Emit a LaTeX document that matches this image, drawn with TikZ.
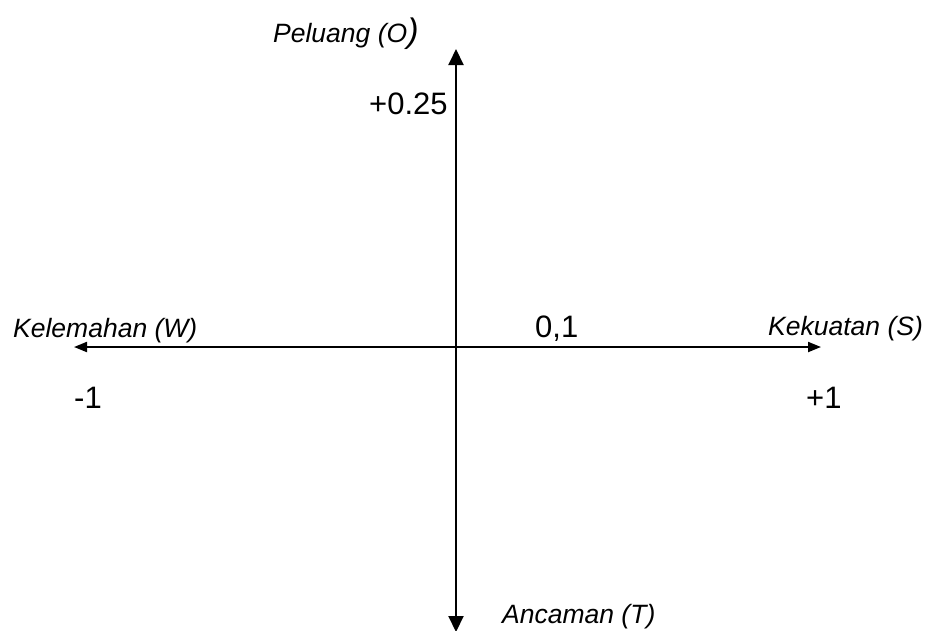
\documentclass[tikz,border=0pt]{standalone}
\usepackage{fontspec}
\setmainfont{Liberation Sans}
\usetikzlibrary{arrows.meta}
\begin{document}
\begin{tikzpicture}[x=1pt,y=-1pt,
  axis/.style={line width=2pt,{Triangle[length=13pt,width=10pt]}-{Triangle[length=13pt,width=10pt]}},
  vaxis/.style={line width=2pt,{Triangle[length=16pt,width=15pt]}-{Triangle[length=16pt,width=15pt]}},
  lab/.style={inner sep=0pt,anchor=base west,font=\fontsize{26.5}{30}\selectfont\itshape},
  num/.style={inner sep=0pt,anchor=base west,font=\fontsize{31}{35}\selectfont}]
\useasboundingbox (0,0) rectangle (925,630);
\coordinate (top) at (456,49);
\coordinate (bot) at (456,632);
\coordinate (left) at (74,347);
\coordinate (right) at (821,347);
\draw[vaxis] (bot) -- (top);
\draw[axis] (left) -- (right);
\node[lab] (o) at (273,42) {Peluang (O{\fontsize{34}{34}\selectfont )}};
\node[num] (q) at (369,114) {+0.25};
\node[lab] (w) at (13,337) {Kelemahan (W)};
\node[lab] (s) at (768,335) {Kekuatan (S)};
\node[lab] (t) at (502,623) {Ancaman (T)};
\node[num] (c) at (535,337) {0,1};
\node[num] (m) at (74,408) {-1};
\node[num] (p) at (806,408) {+1};
\end{tikzpicture}
\end{document}
